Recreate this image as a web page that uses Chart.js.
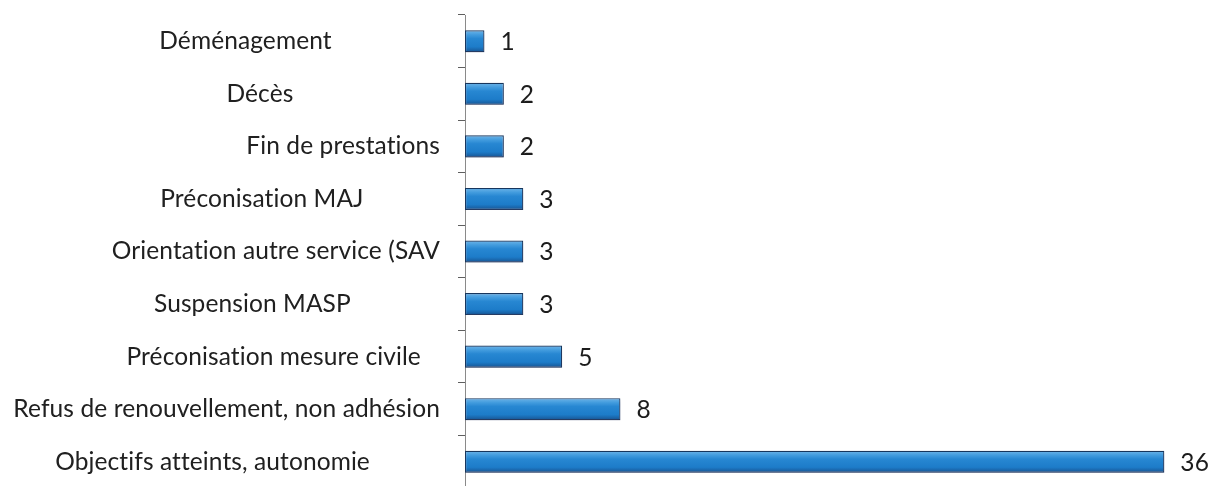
<!DOCTYPE html>
<html>
<head>
<meta charset="utf-8">
<script src="https://cdn.jsdelivr.net/npm/chart.js@4.4.1/dist/chart.umd.min.js"></script>
<style>
  html, body { margin: 0; padding: 0; background: #ffffff; overflow: hidden; }
  #wrap { position: relative; width: 1209px; height: 488px; }
</style>
</head>
<body>
<div id="wrap"><canvas id="c"></canvas></div>
<script>
// Motifs de fin de mesure (nombre de situations)
const categories = [
  "Déménagement                 ",
  "Décès                       ",
  "Fin de prestations",
  "Préconisation MAJ            ",
  "Orientation autre service (SAV",
  "Suspension MASP              ",
  "Préconisation mesure civile   ",
  "Refus de renouvellement, non adhésion",
  "Objectifs atteints, autonomie           "
];
const counts = [1, 2, 2, 3, 3, 3, 5, 8, 36];

const FONT = "Lato, 'Open Sans', sans-serif";
const FONT_SIZE = 24.5;
const BAR_PCT = 0.42;

// Bevelled blue fill, computed from the category band of each bar
function barGradient(c) {
  const chart = c.chart;
  const y = chart.scales && chart.scales.y;
  if (!y || c.dataIndex === undefined) return '#2484cf';
  const center = y.getPixelForValue(c.dataIndex);
  const band = Math.abs(y.getPixelForValue(1) - y.getPixelForValue(0));
  const half = band * BAR_PCT / 2;
  if (!isFinite(center) || !isFinite(half) || half <= 0) return '#2484cf';
  const g = chart.ctx.createLinearGradient(0, center - half, 0, center + half);
  g.addColorStop(0.00, '#2a74b8');
  g.addColorStop(0.08, '#5eabe4');
  g.addColorStop(0.20, '#439cde');
  g.addColorStop(0.38, '#2787d2');
  g.addColorStop(0.75, '#1d7cc9');
  g.addColorStop(0.92, '#1960a3');
  g.addColorStop(1.00, '#143a66');
  return g;
}

// Soft drop shadow under the bars
const barShadow = {
  id: 'barShadow',
  beforeDatasetsDraw(chart) {
    const ctx = chart.ctx;
    ctx.save();
    ctx.shadowColor = 'rgba(70,70,110,0.35)';
    ctx.shadowBlur = 3;
    ctx.shadowOffsetX = 1;
    ctx.shadowOffsetY = 3;
  },
  afterDatasetsDraw(chart) {
    chart.ctx.restore();
  }
};

// Plain letter shapes (no "ti"/"fi" ligatures) for all chart text
const plainText = {
  id: 'plainText',
  beforeDraw(chart) {
    chart.ctx.letterSpacing = '0.1px';
  }
};

// Value written just past the end of each bar
const valueLabels = {
  id: 'valueLabels',
  afterDraw(chart) {
    const ctx = chart.ctx;
    const meta = chart.getDatasetMeta(0);
    ctx.save();
    ctx.font = FONT_SIZE + 'px ' + FONT;
    ctx.fillStyle = '#1c1c1c';
    ctx.textAlign = 'left';
    ctx.textBaseline = 'middle';
    meta.data.forEach((bar, i) => {
      const p = bar.getProps(['x', 'y'], true);
      ctx.fillText(String(counts[i]), p.x + 16, p.y + 1);
    });
    ctx.restore();
  }
};

new Chart(document.getElementById('c'), {
  type: 'bar',
  data: {
    labels: categories,
    datasets: [{
      data: counts,
      backgroundColor: barGradient,
      borderColor: '#17365d',
      borderWidth: 1.2,
      borderSkipped: false,
      barPercentage: BAR_PCT,
      categoryPercentage: 1.0
    }]
  },
  options: {
    indexAxis: 'y',
    responsive: true,
    maintainAspectRatio: false,
    animation: false,
    layout: { padding: { top: 15, right: 0, bottom: 0, left: 0 } },
    plugins: {
      legend: { display: false },
      tooltip: { enabled: false },
      title: { display: false }
    },
    scales: {
      x: {
        display: false,
        min: 0,
        max: 38.3
      },
      y: {
        afterFit(scale) {
          scale.width = 465;
          scale.paddingTop = 0;
          scale.paddingBottom = 0;
        },
        grid: {
          offset: true,
          drawOnChartArea: false,
          drawTicks: true,
          tickLength: 7,
          color: '#5f5f5f',
          lineWidth: 1
        },
        border: { display: true, color: '#8a8a8a', width: 1 },
        ticks: {
          padding: 18,
          color: '#202020',
          font: { family: FONT, size: FONT_SIZE }
        }
      }
    }
  },
  plugins: [plainText, barShadow, valueLabels]
});
</script>
</body>
</html>
